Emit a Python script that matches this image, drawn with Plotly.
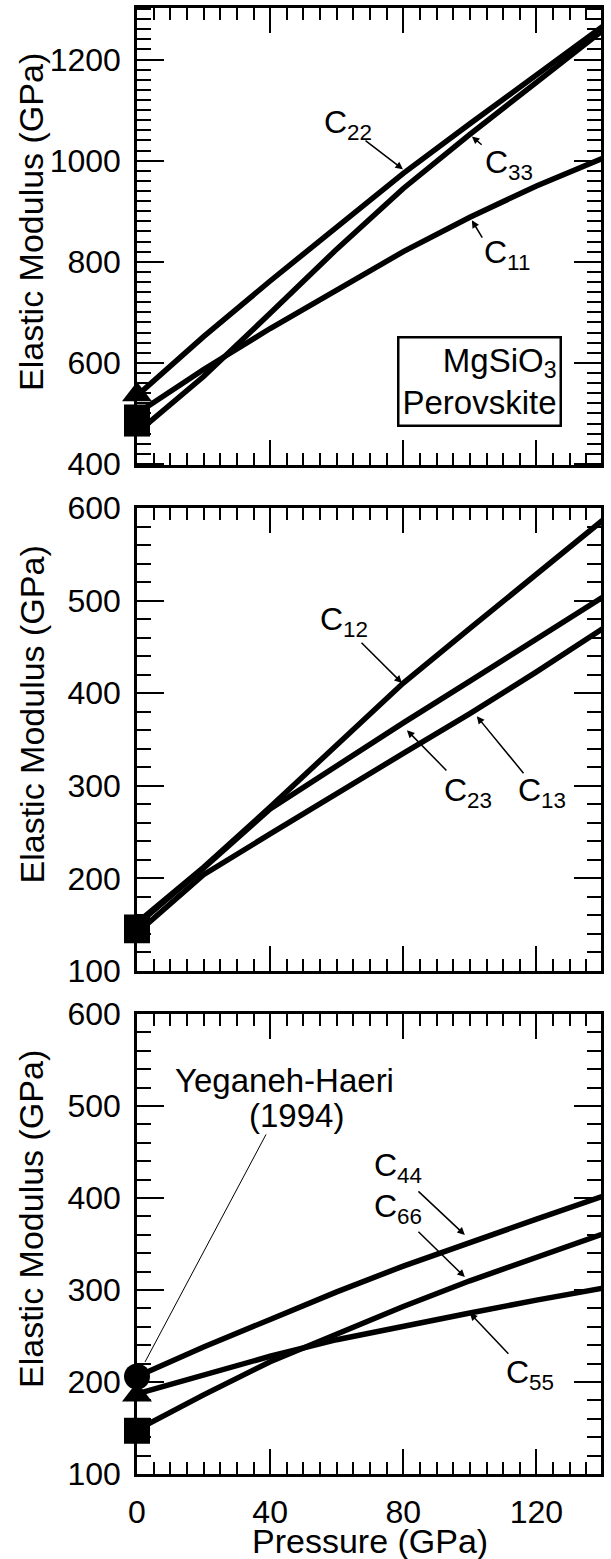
import plotly.graph_objects as go

# ---------------- data ----------------
pressure = [0, 20, 40, 60, 80, 100, 120, 140]

# panel 1 (longitudinal moduli)
c11 = [500, 587, 668, 745, 820, 888, 950, 1005]
c22 = [535, 652, 762, 868, 975, 1073, 1170, 1266]
c33 = [462, 573, 698, 825, 945, 1052, 1155, 1258]

# panel 2 (off-diagonal moduli)
c12 = [152, 212, 277, 344, 411, 470, 528, 587]
c13 = [141, 204, 248, 292, 335, 378, 423, 470]
c23 = [150, 211, 275, 322, 368, 413, 458, 504]

# panel 3 (shear moduli)
c44 = [206, 238, 268, 298, 326, 352, 377, 402]
c55 = [187, 208, 228, 246, 261, 275, 289, 302]
c66 = [148, 186, 222, 252, 282, 310, 336, 361]

# Yeganeh-Haeri (1994) experimental values at zero pressure
exp_p = [0]
exp_c11 = [480]
exp_c22 = [537]
exp_c33 = [492]
exp_c12 = [144]
exp_c13 = [147]
exp_c23 = [146]
exp_c44 = [206]
exp_c55 = [186]
exp_c66 = [147]

x_ticks = [0, 40, 80, 120]

FONT = "Liberation Sans, Arial, Helvetica, sans-serif"
W, H = 611, 1559
ML, MR, MT, MB = 137, 10, 8, 85
PH = H - MT - MB

fig = go.Figure()

def line(x, y, ax):
    fig.add_trace(go.Scatter(x=x, y=y, mode="lines", xaxis="x" + ax, yaxis="y" + ax,
                             line=dict(color="black", width=5.5), showlegend=False,
                             hoverinfo="skip"))

def marker(x, y, ax, symbol):
    fig.add_trace(go.Scatter(x=x, y=y, mode="markers", xaxis="x" + ax, yaxis="y" + ax,
                             marker=dict(symbol=symbol, size=26, color="black",
                                         line=dict(width=0)),
                             cliponaxis=False, showlegend=False, hoverinfo="skip"))

# panel 1
for s in (c11, c22, c33):
    line(pressure, s, "")
marker(exp_p, exp_c22, "", "triangle-up")
marker(exp_p, exp_c11, "", "square")
marker(exp_p, exp_c33, "", "square")
# panel 2
for s in (c12, c13, c23):
    line(pressure, s, "2")
marker(exp_p, exp_c12, "2", "square")
marker(exp_p, exp_c13, "2", "square")
marker(exp_p, exp_c23, "2", "square")
# panel 3
for s in (c44, c55, c66):
    line(pressure, s, "3")
marker(exp_p, exp_c44, "3", "circle")
marker(exp_p, exp_c55, "3", "triangle-up")
marker(exp_p, exp_c66, "3", "square")

def dom(top_px, bot_px):
    return [(H - MB - bot_px) / PH, (H - MB - top_px) / PH]

xbase = dict(range=[0, 139.4], showline=True, linewidth=2.5, linecolor="black",
             mirror="allticks", ticks="inside", ticklen=25, tickwidth=2,
             tickcolor="black", tickmode="array", tickvals=x_ticks, automargin=False,
             minor=dict(dtick=5, tick0=0, ticks="inside", ticklen=12, tickwidth=1.5,
                        tickcolor="black"),
             showgrid=False, zeroline=False,
             tickfont=dict(family=FONT, size=32, color="black"))

def ybase(rng, dt, domain):
    return dict(range=rng, domain=domain, showline=True, linewidth=2.5, linecolor="black",
                mirror="allticks", ticks="inside", ticklen=27, tickwidth=2,
                tickcolor="black", dtick=dt, tick0=0, automargin=False,
                minor=dict(dtick=20, tick0=0, ticks="inside", ticklen=14, tickwidth=1.5,
                           tickcolor="black"),
                showgrid=False, zeroline=False, ticklabelstandoff=7,
                tickfont=dict(family=FONT, size=32, color="black"))

fig.update_layout(
    template="none",
    width=W, height=H,
    margin=dict(l=ML, r=MR, t=MT, b=MB, autoexpand=False),
    paper_bgcolor="white", plot_bgcolor="white",
    font=dict(family=FONT, size=32, color="black"),
    xaxis=dict(xbase, anchor="y", showticklabels=False),
    xaxis2=dict(xbase, anchor="y2", showticklabels=False),
    xaxis3=dict(xbase, anchor="y3", showticklabels=True, ticklabelstandoff=8),
    yaxis=ybase([398, 1302], 200, dom(8, 465)),
    yaxis2=ybase([100, 600], 100, dom(508, 971)),
    yaxis3=ybase([100, 600], 100, dom(1014, 1474)),
)

ann = []

def label(text, x, y, ax, size=32, **kw):
    d = dict(text=text, x=x, y=y, xref="x" + ax, yref="y" + ax, showarrow=False,
             font=dict(family=FONT, size=size, color="black"),
             xanchor="center", yanchor="middle")
    d.update(kw)
    ann.append(d)

def arrow(x0, y0, x1, y1, ax, head=2, width=1.5):
    ann.append(dict(text="", x=x1, y=y1, ax=x0, ay=y0, xref="x" + ax, yref="y" + ax,
                    axref="x" + ax, ayref="y" + ax, showarrow=True, arrowhead=head,
                    arrowsize=1, arrowwidth=width, arrowcolor="black", standoff=0))

# panel 1 labels
label("C<sub>22</sub>", 63.4, 1072, "")
arrow(68.2, 1042, 79.9, 983, "")
label("C<sub>33</sub>", 111.7, 993, "")
arrow(104, 1029, 100.6, 1048, "")
label("C<sub>11</sub>", 111.1, 815, "")
arrow(104, 845, 100.6, 882, "")
label("MgSiO<sub>3</sub><br>Perovskite", 127.6, 564, "", size=33, xanchor="right",
      align="right", bordercolor="black", borderwidth=2.5, borderpad=3, bgcolor="white")

# panel 2 labels
label("C<sub>12</sub>", 62.2, 477, "2")
arrow(67, 456, 79.6, 411, "2")
label("C<sub>23</sub>", 99.4, 293, "2")
arrow(93.4, 315, 81.1, 360, "2")
label("C<sub>13</sub>", 121.6, 293, "2")
arrow(116.5, 312, 102.1, 375, "2")

# panel 3 labels
label("Yeganeh-Haeri", 44.4, 528, "3", size=33)
label("(1994)", 48, 490, "3", size=33)
arrow(39, 470.7, 2.4, 221.7, "3", head=0, width=1)
label("C<sub>44</sub>", 78.4, 433.7, "3")
arrow(84.1, 408.7, 98.5, 359.8, "3")
label("C<sub>66</sub>", 78.4, 389, "3")
arrow(84.1, 365, 98.5, 314, "3")
label("C<sub>55</sub>", 118, 208.7, "3")
arrow(112, 229, 100, 275, "3")

# axis titles
for yc in (222, 714.5, 1219):
    ann.append(dict(text="Elastic Modulus (GPa)", textangle=-90, xref="paper", yref="paper",
                    x=(31 - ML) / (W - ML - MR), y=(H - MB - yc) / PH, showarrow=False,
                    xanchor="center", yanchor="middle",
                    font=dict(family=FONT, size=34, color="black")))
ann.append(dict(text="Pressure (GPa)", xref="paper", yref="paper",
                x=(370 - ML) / (W - ML - MR), y=(H - MB - 1541) / PH, showarrow=False,
                xanchor="center", yanchor="middle",
                font=dict(family=FONT, size=34, color="black")))

fig.update_layout(annotations=ann)
fig.write_html("out.html")
